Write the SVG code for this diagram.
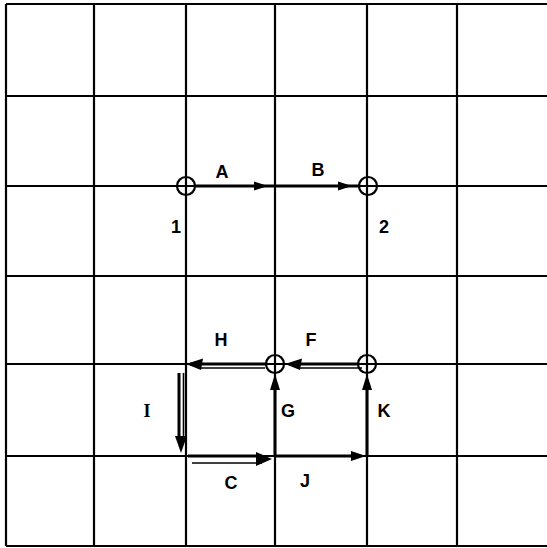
<svg xmlns="http://www.w3.org/2000/svg" width="547" height="548" viewBox="0 0 547 548">
<style>
.grid{stroke:#000;stroke-width:2.2;fill:none}
.node{stroke:#000;stroke-width:2.2;fill:none}
.thick{stroke:#000;stroke-width:3;fill:none}
.thin{stroke:#000;stroke-width:1.6;fill:none}
.head{fill:#000}
.lbl{font-family:"Liberation Sans",Arial,sans-serif;font-size:18px;font-weight:bold;fill:#000;text-anchor:middle;dominant-baseline:central}
</style>
<rect width="547" height="548" fill="#fff"/>
<g id="grid" class="grid">
<line x1="6" y1="4" x2="6" y2="546"/>
<line x1="94" y1="4" x2="94" y2="546"/>
<line x1="186" y1="4" x2="186" y2="546"/>
<line x1="275" y1="4" x2="275" y2="546"/>
<line x1="367" y1="4" x2="367" y2="546"/>
<line x1="457" y1="4" x2="457" y2="546"/>
<line x1="6" y1="4" x2="547" y2="4"/>
<line x1="6" y1="96" x2="547" y2="96"/>
<line x1="6" y1="186" x2="547" y2="186"/>
<line x1="6" y1="276" x2="547" y2="276"/>
<line x1="6" y1="364" x2="547" y2="364"/>
<line x1="6" y1="456" x2="547" y2="456"/>
<line x1="6" y1="546" x2="547" y2="546"/>
</g>
<g id="connectors">
<g id="A">
<line class="thick" x1="195" y1="186" x2="275" y2="186"/>
<polygon class="head" points="268,186 254,181.5 254,190.5"/>
</g>
<g id="B">
<line class="thick" x1="275" y1="186" x2="359" y2="186"/>
<polygon class="head" points="352,186 338,181.5 338,190.5"/>
</g>
<g id="H">
<line class="thick" x1="190" y1="364" x2="266" y2="364"/>
<line class="thin" x1="198" y1="368" x2="265" y2="368"/>
<polygon class="head" points="186,364 203,358.5 201,370"/>
</g>
<g id="F">
<line class="thick" x1="295" y1="364" x2="359" y2="364"/>
<line class="thin" x1="300" y1="368" x2="362" y2="368"/>
<polygon class="head" points="285,364 302,358.5 300,370"/>
</g>
<g id="I">
<line class="thick" x1="179" y1="373" x2="179" y2="440"/>
<line class="thin" x1="183.5" y1="373" x2="183.5" y2="440"/>
<polygon class="head" points="181,453 175,436 187,436"/>
</g>
<g id="C">
<line class="thick" x1="188" y1="456" x2="262" y2="456"/>
<line class="thin" x1="192" y1="463" x2="262" y2="463"/>
<polygon class="head" points="272,459 256,452 256,466"/>
</g>
<g id="J">
<line class="thick" x1="276" y1="456" x2="360" y2="456"/>
<polygon class="head" points="366,456 351,451 351,461"/>
</g>
<g id="G">
<line class="thick" x1="275" y1="456" x2="275" y2="380"/>
<polygon class="head" points="275,374 270,390 280,390"/>
</g>
<g id="K">
<line class="thick" x1="367" y1="456" x2="367" y2="380"/>
<polygon class="head" points="367,374 362,390 372,390"/>
</g>
</g>
<g id="node1"><circle class="node" cx="186" cy="186" r="9"/><text class="lbl" x="176" y="227">1</text></g>
<g id="node2"><circle class="node" cx="368" cy="186" r="9"/><text class="lbl" x="384" y="227">2</text></g>
<g id="node3"><circle class="node" cx="275" cy="364" r="9"/></g>
<g id="node4"><circle class="node" cx="367" cy="364" r="9"/></g>
<g id="labels">
<text class="lbl" x="222" y="172">A</text>
<text class="lbl" x="318" y="170">B</text>
<text class="lbl" x="221" y="340">H</text>
<text class="lbl" x="311" y="340">F</text>
<text class="lbl" x="147" y="411" style="font-family:'Liberation Serif',serif">I</text>
<text class="lbl" x="288" y="411">G</text>
<text class="lbl" x="384" y="411">K</text>
<text class="lbl" x="231" y="483">C</text>
<text class="lbl" x="305" y="481">J</text>
</g>
</svg>
